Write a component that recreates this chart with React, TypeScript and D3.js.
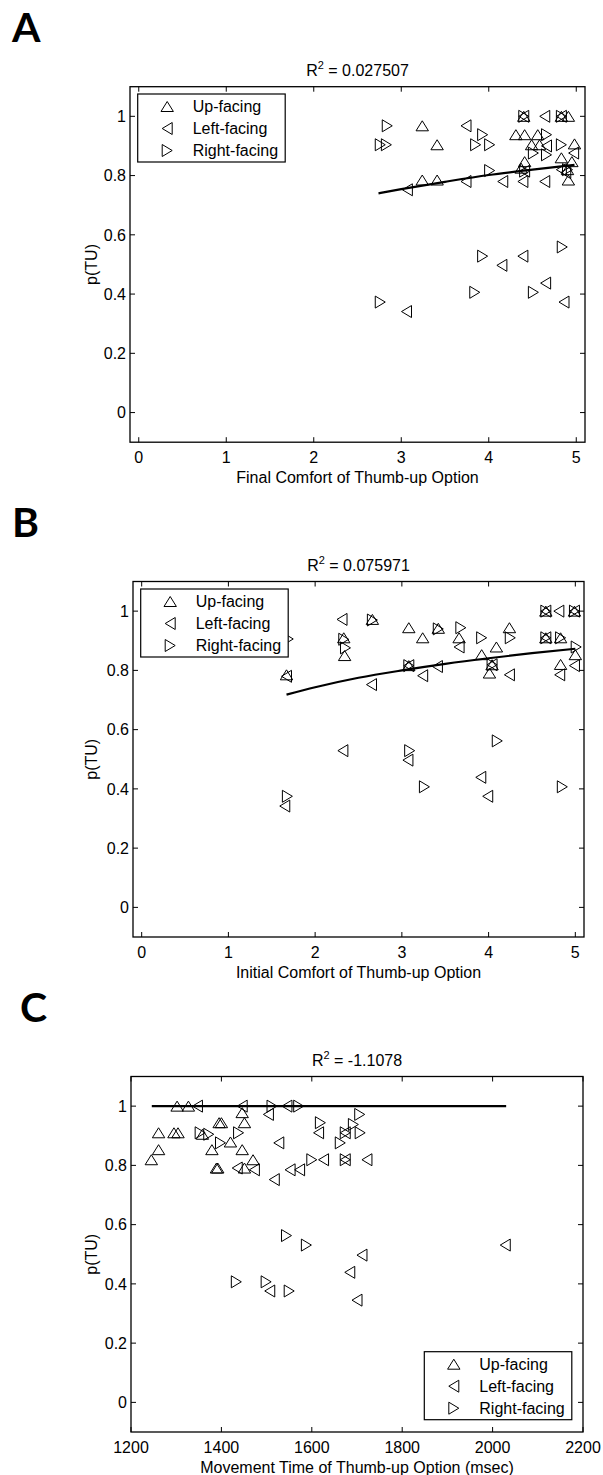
import React from "react";
import * as d3 from "d3";

type Pt = [number, number];

const FONT = "'Liberation Sans', Arial, Helvetica, sans-serif";

// ---------- Panel A : Final comfort ----------
const aUp: Pt[] = [[3.24,0.968],[3.41,0.904],[3.24,0.785],[3.41,0.785],[4.31,0.938],[4.41,0.938],[4.40,1.0],[4.83,1.0],[4.91,1.0],[4.56,0.938],[4.49,0.904],[4.58,0.904],[4.98,0.907],[4.41,0.847],[4.83,0.86],[4.95,0.847],[4.37,0.825],[4.91,0.785],[4.90,0.82]];
const aLeft: Pt[] = [[3.74,0.968],[3.07,0.752],[3.74,0.78],[4.16,0.78],[4.40,1.0],[4.64,1.0],[4.83,1.0],[4.66,0.90],[4.97,0.876],[4.41,0.815],[4.39,0.78],[4.64,0.78],[4.83,0.82],[4.88,0.81],[4.15,0.497],[4.39,0.528],[4.65,0.437],[4.86,0.373],[3.06,0.341]];
const aRight: Pt[] = [[2.84,0.968],[2.76,0.904],[2.83,0.904],[3.93,0.938],[3.85,0.904],[4.01,0.904],[4.01,0.817],[4.40,1.0],[4.83,1.0],[4.66,0.938],[4.83,0.904],[4.51,0.876],[4.66,0.87],[4.41,0.815],[4.90,0.82],[3.93,0.528],[4.84,0.559],[4.51,0.406],[3.84,0.406],[2.76,0.373]];
const aFit: Pt[] = [[2.74,0.740],[3.0,0.754],[3.5,0.779],[4.0,0.802],[4.5,0.820],[4.98,0.836]];

// ---------- Panel B : Initial comfort ----------
const bUp: Pt[] = [[1.67,0.785],[2.33,0.91],[2.34,0.85],[2.66,0.972],[3.08,0.944],[3.08,0.816],[3.24,0.91],[3.42,0.942],[3.66,0.91],[4.09,0.879],[3.92,0.853],[4.01,0.791],[4.04,0.819],[4.24,0.944],[4.66,1.0],[4.66,0.91],[4.83,0.91],[4.99,1.0],[5.0,0.853],[4.83,0.82]];
const bLeft: Pt[] = [[1.67,0.78],[2.31,0.972],[2.65,0.752],[3.08,0.816],[3.24,0.782],[3.41,0.813],[3.66,0.879],[4.04,0.819],[4.24,0.785],[4.66,1.0],[4.81,1.0],[4.66,0.91],[4.99,1.0],[4.99,0.816],[4.82,0.785],[2.32,0.529],[3.07,0.497],[3.91,0.439],[3.99,0.375],[1.65,0.342]];
const bRight: Pt[] = [[1.69,0.906],[2.33,0.905],[2.35,0.876],[2.66,0.97],[3.08,0.816],[3.42,0.94],[3.68,0.944],[3.92,0.91],[4.04,0.819],[4.25,0.91],[4.66,1.0],[4.66,0.91],[4.83,0.91],[4.99,1.0],[5.01,0.879],[3.09,0.529],[4.10,0.562],[3.26,0.407],[4.85,0.407],[1.68,0.375]];
const bFit: Pt[] = [[1.67,0.718],[2,0.743],[2.5,0.775],[3,0.800],[3.5,0.822],[4,0.841],[4.5,0.858],[5,0.873]];

// ---------- Panel C : Movement time ----------
const cUp: Pt[] = [[1245,0.819],[1261,0.853],[1261,0.91],[1302,1.0],[1327,1.0],[1295,0.91],[1304,0.91],[1358,0.905],[1395,0.944],[1400,0.944],[1379,0.853],[1420,0.879],[1446,0.978],[1451,0.944],[1446,0.853],[1389,0.791],[1392,0.791],[1451,0.791],[1470,0.819]];
const cLeft: Pt[] = [[1347,1.0],[1446,1.0],[1504,0.972],[1435,0.791],[1473,0.785],[1545,1.0],[1527,0.876],[1517,0.752],[1552,0.785],[1573,0.785],[1626,0.819],[1615,0.91],[1674,0.91],[1674,0.819],[1722,0.819],[1711,0.497],[1684,0.439],[2028,0.531],[1507,0.376],[1700,0.345]];
const cRight: Pt[] = [[1353,0.91],[1372,0.905],[1398,0.876],[1438,0.91],[1512,1.0],[1571,1.0],[1600,0.819],[1619,0.944],[1663,0.876],[1674,0.91],[1674,0.819],[1692,0.938],[1706,0.972],[1707,0.91],[1544,0.563],[1588,0.531],[1433,0.407],[1499,0.407],[1550,0.376]];
const cFit: Pt[] = [[1246,1.0],[2030,1.0]];

// ---------- Axes / labels ----------
const xTicksAB = [0, 1, 2, 3, 4, 5];
const xTicksC = [1200, 1400, 1600, 1800, 2000, 2200];
const yTicks = [0, 0.2, 0.4, 0.6, 0.8, 1];
const seriesNames = ["Up-facing", "Left-facing", "Right-facing"];
const r2Values = ["0.027507", "0.075971", "-1.1078"];
const panelLetters = ["A", "B", "C"];
const xLabels = [
  "Final Comfort of Thumb-up Option",
  "Initial Comfort of Thumb-up Option",
  "Movement Time of Thumb-up Option (msec)",
];

const W = 603;
const H = 1475;
const PH = 355.5;

const panels = [
  { letter: panelLetters[0], r2: r2Values[0], xLabel: xLabels[0], top: 86.7, left: 130, right: 585,
    xDomain: [-0.1, 5.1], xTicks: xTicksAB, up: aUp, lf: aLeft, rt: aRight, fit: aFit,
    legend: { x: 137.7, y: 94 }, letterX: 12, letterY: 42 },
  { letter: panelLetters[1], r2: r2Values[1], xLabel: xLabels[1], top: 581.5, left: 133, right: 584,
    xDomain: [-0.1, 5.1], xTicks: xTicksAB, up: bUp, lf: bLeft, rt: bRight, fit: bFit,
    legend: { x: 140.7, y: 589 }, letterX: 12, letterY: 537 },
  { letter: panelLetters[2], r2: r2Values[2], xLabel: xLabels[2], top: 1076.5, left: 131, right: 583,
    xDomain: [1200, 2200], xTicks: xTicksC, up: cUp, lf: cLeft, rt: cRight, fit: cFit,
    legend: { x: 424.3, y: 1351.7 }, letterX: 20, letterY: 1022 },
];

const UP = "M0,-5L6.2,5L-6.2,5Z";
const LEFT = "M-5,0L5,-6L5,6Z";
const RIGHT = "M5,0L-5,-6L-5,6Z";
const shapes = [UP, LEFT, RIGHT];

function Panel({ p }: { p: typeof panels[number] }) {
  const x = d3.scaleLinear().domain(p.xDomain).range([p.left, p.right]);
  const y = d3.scaleLinear().domain([-0.1, 1.1]).range([p.top + PH, p.top]);
  const line = d3
    .line<Pt>()
    .x((d) => x(d[0]))
    .y((d) => y(d[1]))
    .curve(d3.curveMonotoneX);
  const bottom = p.top + PH;
  const cx = (p.left + p.right) / 2;
  const tk = 5;
  const series = [p.up, p.lf, p.rt];
  const fmtY = (v: number) => (v === 0 ? "0" : v === 1 ? "1" : String(v));
  return (
    <g>
      <text x={p.letterX} y={p.letterY} fontFamily="Lato, 'Open Sans', sans-serif"
        fontWeight={700} fontSize={41}>{p.letter}</text>
      <text x={cx} y={p.top - 11} textAnchor="middle" fontSize={16}>
        R<tspan fontSize={11} dy={-7}>2</tspan>
        <tspan dy={7}> = {p.r2}</tspan>
      </text>
      {series.map((s, i) =>
        s.map((d, j) => (
          <path key={`${i}-${j}`} d={shapes[i]} transform={`translate(${x(d[0])},${y(d[1])})`}
            fill="none" stroke="#000" strokeWidth={1} />
        ))
      )}
      <path d={line(p.fit) || ""} fill="none" stroke="#000" strokeWidth={2.2} />
      <rect x={p.left} y={p.top} width={p.right - p.left} height={PH} fill="none" stroke="#000" strokeWidth={1.3} />
      {p.xTicks.map((t) => (
        <g key={`xt${t}`}>
          <line x1={x(t)} x2={x(t)} y1={bottom} y2={bottom - tk} stroke="#000" strokeWidth={1} />
          <line x1={x(t)} x2={x(t)} y1={p.top} y2={p.top + tk} stroke="#000" strokeWidth={1} />
          <text x={x(t)} y={bottom + 20.5} textAnchor="middle" fontSize={16}>{t}</text>
        </g>
      ))}
      {yTicks.map((t) => (
        <g key={`yt${t}`}>
          <line x1={p.left} x2={p.left + tk} y1={y(t)} y2={y(t)} stroke="#000" strokeWidth={1} />
          <line x1={p.right} x2={p.right - tk} y1={y(t)} y2={y(t)} stroke="#000" strokeWidth={1} />
          <text x={p.left - 4} y={y(t) + 5.7} textAnchor="end" fontSize={16}>{fmtY(t)}</text>
        </g>
      ))}
      <text x={cx} y={bottom + 40.5} textAnchor="middle" fontSize={16}>{p.xLabel}</text>
      <text transform={`translate(97,${p.top + PH / 2}) rotate(-90)`} textAnchor="middle" fontSize={16}>p(TU)</text>
      <g transform={`translate(${p.legend.x},${p.legend.y})`}>
        <rect x={0} y={0} width={147.5} height={68} fill="#fff" stroke="#000" strokeWidth={1.2} />
        {seriesNames.map((n, i) => (
          <g key={n} transform={`translate(0,${12.5 + i * 22})`}>
            <path d={shapes[i]} transform="translate(29.5,0)" fill="none" stroke="#000" strokeWidth={1} />
            <text x={55} y={5.7} fontSize={16}>{n}</text>
          </g>
        ))}
      </g>
    </g>
  );
}

export default function App() {
  return (
    <svg width={W} height={H} viewBox={`0 0 ${W} ${H}`}
      style={{ position: "absolute", left: 0, top: 0, background: "#fff" }}
      fontFamily={FONT}>
      <rect x={0} y={0} width={W} height={H} fill="#fff" />
      {panels.map((p) => (
        <Panel key={p.letter} p={p} />
      ))}
    </svg>
  );
}
